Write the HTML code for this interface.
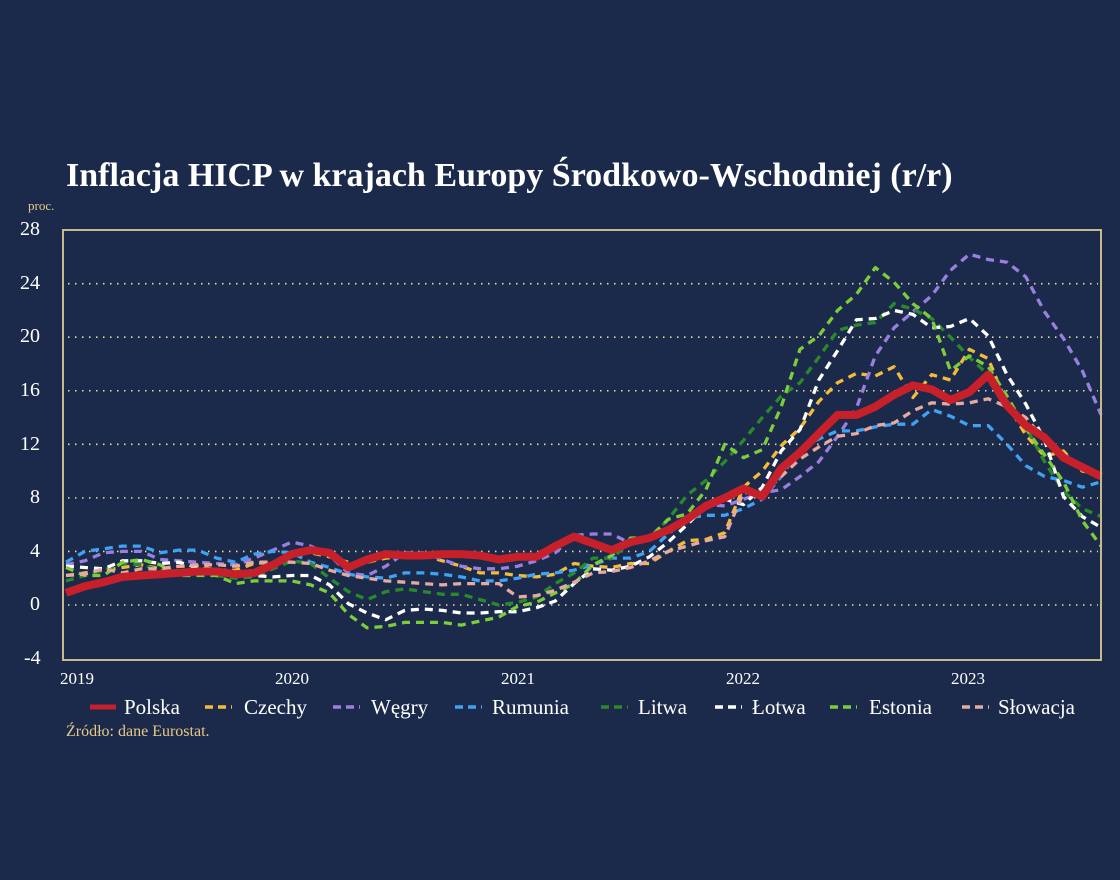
<!DOCTYPE html>
<html><head><meta charset="utf-8">
<style>
html,body{margin:0;padding:0;background:#1b2a4b;}
svg{display:block;font-family:"Liberation Serif",serif;}
</style></head>
<body>
<svg id="c" width="1120" height="880" xmlns="http://www.w3.org/2000/svg">
<rect width="1120" height="880" fill="#1b2a4b"/>
<text x="66" y="186" fill="#fff" font-size="34" font-weight="bold">Inflacja HICP w krajach Europy Środkowo-Wschodniej (r/r)</text>
<text x="28" y="210" fill="#e8c987" font-size="13">proc.</text>
<g id="grid" stroke="#e8dca0" stroke-width="1.6" stroke-dasharray="1.5 5.5"></g>
<g fill="#fff" font-size="17" text-anchor="middle">
<text x="77" y="684">2019</text><text x="292" y="684">2020</text><text x="518" y="684">2021</text><text x="743" y="684">2022</text><text x="968" y="684">2023</text>
</g>
<g id="series" fill="none" stroke-linejoin="round"></g>
<rect x="63" y="230" width="1038" height="430" fill="none" stroke="#c9b98a" stroke-width="2"/>
<g font-size="21" fill="#fff">
<line x1="90" y1="707" x2="116" y2="707" stroke="#c8202a" stroke-width="5"/><text x="124" y="714">Polska</text>
<line x1="205" y1="707" x2="232" y2="707" stroke="#f2bc3a" stroke-width="3.5" stroke-dasharray="8 5"/><text x="244" y="714">Czechy</text>
<line x1="333" y1="707" x2="360" y2="707" stroke="#9b7fe0" stroke-width="3.5" stroke-dasharray="8 5"/><text x="371" y="714">Węgry</text>
<line x1="455" y1="707" x2="482" y2="707" stroke="#3fa2f2" stroke-width="3.5" stroke-dasharray="8 5"/><text x="492" y="714">Rumunia</text>
<line x1="601" y1="707" x2="628" y2="707" stroke="#2a8a2a" stroke-width="3.5" stroke-dasharray="8 5"/><text x="638" y="714">Litwa</text>
<line x1="715" y1="707" x2="742" y2="707" stroke="#ffffff" stroke-width="3.5" stroke-dasharray="8 5"/><text x="752" y="714">Łotwa</text>
<line x1="830" y1="707" x2="857" y2="707" stroke="#7ccd3a" stroke-width="3.5" stroke-dasharray="8 5"/><text x="869" y="714">Estonia</text>
<line x1="962" y1="707" x2="989" y2="707" stroke="#e5aaa0" stroke-width="3.5" stroke-dasharray="8 5"/><text x="998" y="714">Słowacja</text>
</g>
<text x="66" y="736" fill="#e8c987" font-size="16">Źródło: dane Eurostat.</text>
</svg>
<script>
var ns="http://www.w3.org/2000/svg";
function Y(v){return 605-13.39*v;}
function X(i){return 66+i*18.82;}
var g=document.getElementById('grid');
for(var v=0;v<28;v+=4){
 var l=document.createElementNS(ns,'line');l.setAttribute('x1',68);l.setAttribute('x2',1098);l.setAttribute('y1',Y(v));l.setAttribute('y2',Y(v));g.appendChild(l);
}
var S=[
["#f2bc3a",[2.2,2.4,2.6,2.8,3.0,2.7,2.9,2.9,2.6,2.6,3.1,3.2,3.8,3.9,3.6,3.2,3.2,3.5,3.6,3.7,3.3,2.9,2.4,2.4,2.2,2.1,2.3,3.1,2.9,2.8,3.1,3.1,4.0,4.8,4.9,5.4,8.8,10.0,11.9,13.2,15.2,16.6,17.3,17.1,17.8,15.5,17.2,16.8,19.1,18.4,15.0,12.7,11.1,11.5,10.0,9.8]],
["#9b7fe0",[3.0,3.3,3.9,4.0,4.0,3.4,3.3,3.2,3.1,3.0,3.5,4.1,4.7,4.4,3.7,2.4,2.2,2.9,3.9,3.9,3.4,2.9,2.7,2.7,2.9,3.3,3.9,5.2,5.3,5.3,4.6,4.9,5.5,6.6,7.5,7.4,7.9,8.4,8.6,9.6,10.7,12.6,14.7,18.6,20.7,21.9,23.1,25.0,26.2,25.8,25.6,24.5,21.9,19.9,17.5,14.2]],
["#3fa2f2",[3.2,4.0,4.2,4.4,4.4,3.9,4.1,4.1,3.5,3.2,3.8,4.0,3.9,3.2,2.8,2.3,2.1,2.0,2.4,2.4,2.3,2.1,1.8,1.8,2.0,2.3,2.4,2.6,3.0,3.5,3.5,4.0,5.3,6.5,6.7,6.7,7.2,7.9,9.6,11.7,12.4,13.0,13.0,13.3,13.5,13.5,14.6,14.1,13.4,13.4,12.0,10.4,9.6,9.3,8.8,9.2]],
["#2a8a2a",[1.8,2.2,2.6,3.1,3.0,2.6,2.5,2.6,2.2,2.0,2.1,2.7,3.3,3.1,2.0,1.0,0.4,1.0,1.2,1.0,0.8,0.8,0.4,0.0,0.2,0.6,1.6,2.4,3.5,3.5,4.7,5.0,6.4,8.2,9.3,10.7,12.3,14.0,15.6,16.6,18.5,20.5,20.9,21.1,22.5,22.1,21.4,20.0,18.5,17.2,15.2,13.3,10.7,8.5,7.2,6.6]],
["#ffffff",[2.9,2.8,2.7,3.3,3.3,3.1,3.2,2.8,2.5,2.2,2.2,2.1,2.2,2.2,1.5,0.1,-0.6,-1.1,-0.4,-0.3,-0.4,-0.6,-0.6,-0.5,-0.5,-0.2,0.3,1.6,2.7,2.6,2.9,3.6,4.7,6.0,7.4,7.9,7.5,8.8,11.5,13.1,16.8,19.0,21.3,21.4,22.0,21.7,20.7,20.8,21.4,20.1,17.2,15.0,12.3,8.1,6.6,5.8]],
["#7ccd3a",[2.8,2.2,2.2,3.2,3.4,3.0,2.2,2.2,2.2,1.6,1.8,1.8,1.8,1.5,0.9,-0.7,-1.7,-1.6,-1.3,-1.3,-1.3,-1.5,-1.2,-0.9,-0.1,0.2,0.9,1.6,3.0,3.7,5.0,5.0,6.4,6.8,8.6,12.0,11.0,11.6,14.8,19.1,20.1,22.0,23.2,25.2,24.1,22.5,21.4,17.5,18.6,17.8,15.6,13.2,11.2,9.2,6.3,4.4]],
["#e5aaa0",[2.2,2.3,2.7,2.4,2.7,2.7,2.9,3.0,3.0,2.9,3.2,3.2,3.2,3.1,2.6,2.2,2.0,1.8,1.7,1.6,1.5,1.6,1.6,1.6,0.6,0.7,1.1,1.7,2.4,2.5,2.8,3.3,4.0,4.4,4.8,5.1,8.4,8.3,9.6,10.9,11.8,12.6,12.8,13.4,13.6,14.5,15.1,15.0,15.1,15.4,14.8,14.0,12.3,11.3,10.3,9.6]],
["#c8202a",[0.9,1.4,1.7,2.1,2.2,2.3,2.4,2.5,2.5,2.3,2.4,3.0,3.8,4.1,3.9,2.8,3.4,3.8,3.7,3.7,3.8,3.8,3.7,3.4,3.6,3.6,4.4,5.1,4.6,4.1,4.7,5.0,5.6,6.4,7.4,8.0,8.7,8.1,10.2,11.4,12.8,14.2,14.2,14.8,15.7,16.4,16.1,15.3,15.9,17.2,14.9,13.4,12.5,11.0,10.3,9.6]]
];
var sg=document.getElementById('series');
S.forEach(function(s,k){
 var d=s[1].map(function(v,i){return (i?'L':'M')+X(i).toFixed(1)+' '+Y(v).toFixed(1);}).join(' ');
 var p=document.createElementNS(ns,'path');p.setAttribute('d',d);p.setAttribute('stroke',s[0]);
 if(k==7){p.setAttribute('stroke-width','8');}else{p.setAttribute('stroke-width','3.3');p.setAttribute('stroke-dasharray','8 6');}
 sg.appendChild(p);
});
</script>
<div style="position:absolute;left:0;top:0;width:60px;font-family:'Liberation Serif',serif;color:#fff;font-size:20px;">
<div style="position:absolute;left:20px;top:218px">28</div>
<div style="position:absolute;left:20px;top:272px">24</div>
<div style="position:absolute;left:20px;top:325px">20</div>
<div style="position:absolute;left:20px;top:379px">16</div>
<div style="position:absolute;left:20px;top:433px">12</div>
<div style="position:absolute;left:30px;top:486px">8</div>
<div style="position:absolute;left:30px;top:540px">4</div>
<div style="position:absolute;left:30px;top:593px">0</div>
<div style="position:absolute;left:24px;top:647px">-4</div>
</div>
</body></html>
